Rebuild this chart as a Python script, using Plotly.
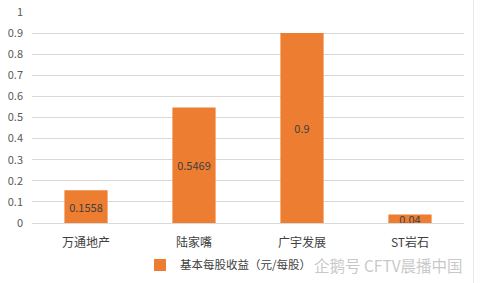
import plotly.graph_objects as go

categories = ["万通地产", "陆家嘴", "广宇发展", "ST岩石"]
eps_values = [0.1558, 0.5469, 0.9, 0.04]
eps_labels = ["0.1558", "0.5469", "0.9", "0.04"]
y_ticks = [0, 0.1, 0.2, 0.3, 0.4, 0.5, 0.6, 0.7, 0.8, 0.9, 1]
y_tick_labels = ["0", "0.1", "0.2", "0.3", "0.4", "0.5", "0.6", "0.7", "0.8", "0.9", "1"]
series_name = "基本每股收益（元/每股）"
watermark = "企鹅号 CFTV晨播中国"

FONT = "Noto Sans CJK SC, Microsoft YaHei, sans-serif"

fig = go.Figure()
fig.add_trace(go.Bar(
    x=categories, y=eps_values, name=series_name,
    marker=dict(color="#ED7D31", line=dict(width=0)),
    text=eps_labels, textposition="inside", insidetextanchor="middle",
    textfont=dict(color="#404040", size=11, family=FONT),
    constraintext="none",
    showlegend=True,
))

fig.update_layout(
    width=480, height=283,
    margin=dict(l=32, r=16, t=12, b=60, autoexpand=False),
    paper_bgcolor="white", plot_bgcolor="white",
    bargap=0.6,
    font=dict(family=FONT, color="#595959", size=11),
    xaxis=dict(showgrid=False, showline=True, linecolor="#d9d9d9", linewidth=1,
               ticks="", ticklabelstandoff=9,
               tickfont=dict(size=12, color="#404040", family=FONT)),
    yaxis=dict(range=[0, 1], tickvals=y_ticks, ticktext=y_tick_labels,
               showgrid=True, gridcolor="#d9d9d9", gridwidth=1, zeroline=False,
               showline=False, ticks="", ticklabelstandoff=8,
               tickfont=dict(size=11, color="#595959", family=FONT)),
    legend=dict(orientation="h", x=0.25, xanchor="left",
                yref="container", y=0.064, yanchor="middle",
                font=dict(size=11.5, color="#404040", family=FONT),
                itemwidth=30, bgcolor="rgba(0,0,0,0)"),
    shapes=[dict(type="line", xref="paper", yref="paper", x0=1.022, x1=1.022,
                 y0=-0.29, y1=1.06, line=dict(color="#e8e8e8", width=1))],
    annotations=[dict(text=watermark, xref="paper", yref="paper", x=1.003, y=-0.2,
                      xanchor="right", yanchor="middle", showarrow=False,
                      font=dict(size=15.5, color="rgba(190,190,190,0.85)", family=FONT))],
)

fig.write_html("out.html")
